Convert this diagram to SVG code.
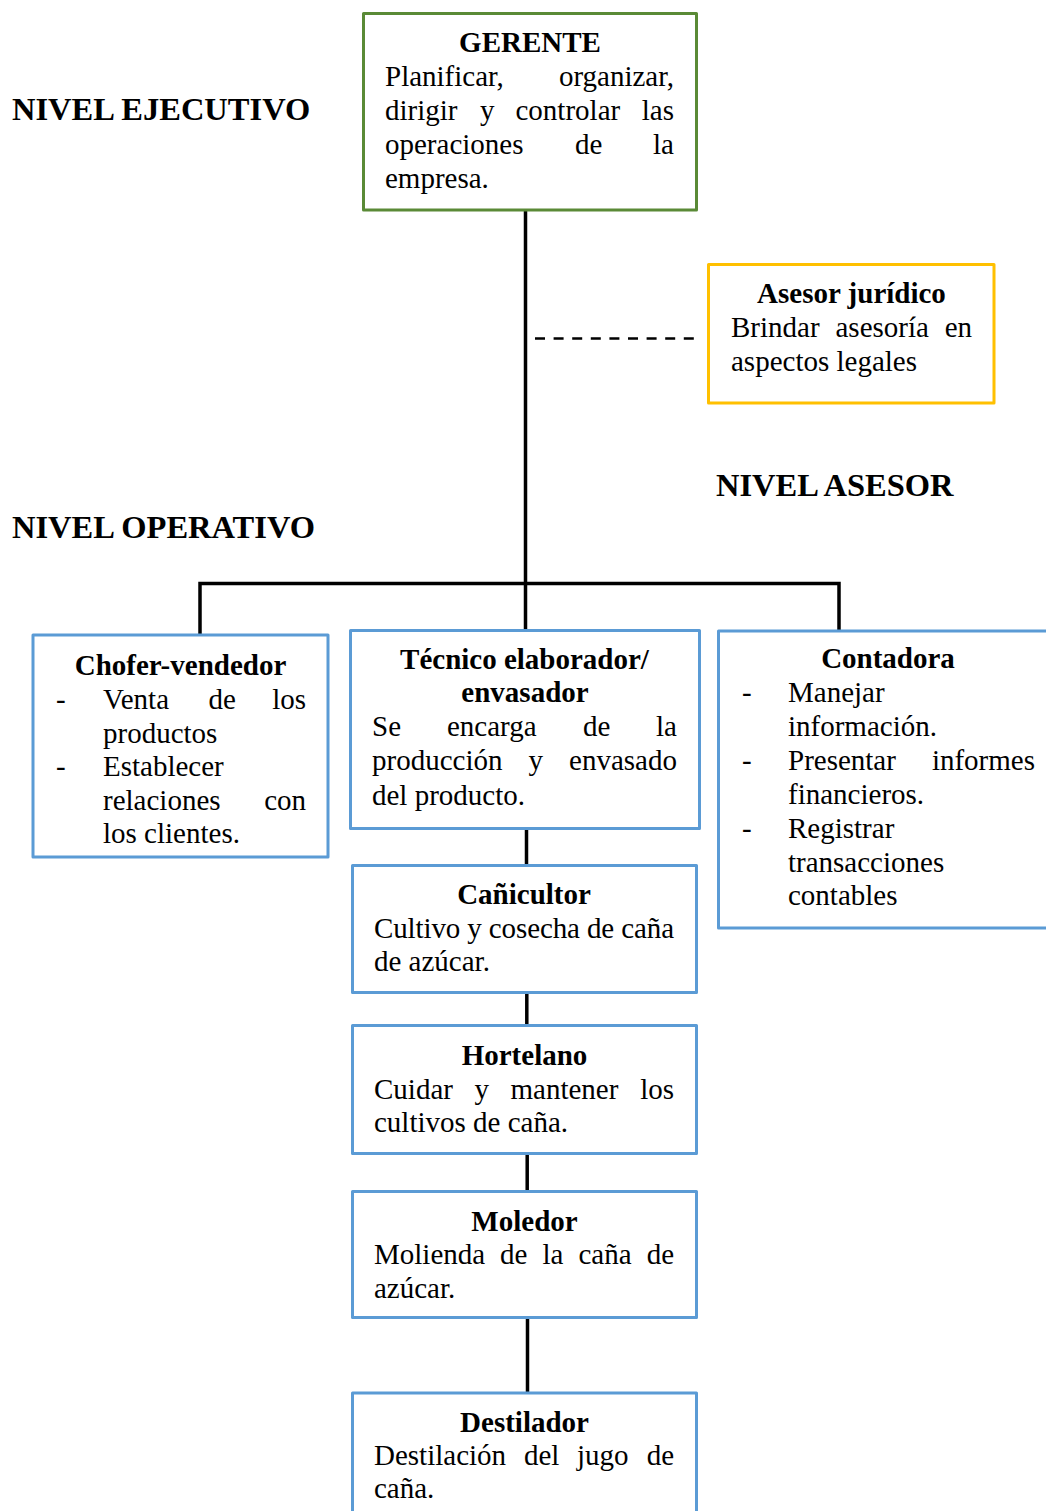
<svg xmlns="http://www.w3.org/2000/svg" width="1046" height="1511" viewBox="0 0 1046 1511">
  <style>
    text { font-family: "Liberation Serif", "Times New Roman", serif; fill: #000; }
    .t { font-size: 29px; font-weight: bold; text-anchor: middle; }
    .b { font-size: 29px; }
    .e { text-anchor: end; }
    .lvl { font-size: 32.5px; font-weight: bold; }
    .box { fill: #fff; stroke-width: 3; stroke-linejoin: round; }
    .blue { stroke: #5B9BD5; }
    .green { stroke: #5A8A36; }
    .gold { stroke: #FFC000; }
    .ln { stroke: #000; stroke-width: 3.5; fill: none; }
  </style>

  <rect width="1046" height="1511" fill="#fff"/>

  <!-- level captions -->
  <text class="lvl" x="12" y="120">NIVEL EJECUTIVO</text>
  <text class="lvl" x="716" y="496">NIVEL ASESOR</text>
  <text class="lvl" x="12" y="538">NIVEL OPERATIVO</text>

  <!-- connectors -->
  <g id="connectors">
    <line class="ln" x1="525.5" y1="211" x2="525.5" y2="631"/>
    <polyline class="ln" points="200,635 200,583.5 839,583.5 839,631"/>
    <line x1="535" y1="338.5" x2="694" y2="338.5" stroke="#000" stroke-width="2.5" stroke-dasharray="10 8.6"/>
    <line class="ln" x1="526.5" y1="829" x2="526.5" y2="866"/>
    <line class="ln" x1="526.8" y1="993" x2="526.8" y2="1026"/>
    <line class="ln" x1="527.2" y1="1153" x2="527.2" y2="1192"/>
    <line class="ln" x1="527.5" y1="1317" x2="527.5" y2="1393"/>
  </g>

  <!-- executive -->
  <g id="gerente">
    <rect class="box green" x="363.5" y="13.5" width="333" height="196.5"/>
    <text class="t" x="530" y="52">GERENTE</text>
    <text class="b" x="385" y="86">Planificar,</text>
    <text class="b e" x="674" y="86">organizar,</text>
    <text class="b" y="120"><tspan x="385">dirigir</tspan><tspan x="480">y</tspan><tspan x="515.5">controlar</tspan></text>
    <text class="b e" x="674" y="120">las</text>
    <text class="b" y="154"><tspan x="385">operaciones</tspan><tspan x="575">de</tspan></text>
    <text class="b e" x="674" y="154">la</text>
    <text class="b" x="385" y="188">empresa.</text>
  </g>

  <!-- advisory -->
  <g id="asesor">
    <rect class="box gold" x="708.5" y="264.5" width="285.5" height="138.5"/>
    <text class="t" x="851.5" y="303">Asesor jurídico</text>
    <text class="b" y="337"><tspan x="731">Brindar</tspan><tspan x="835.5">asesoría</tspan></text>
    <text class="b e" x="972" y="337">en</text>
    <text class="b" x="731" y="370.5">aspectos legales</text>
  </g>

  <!-- operational -->
  <g id="chofer">
    <rect class="box blue" x="33" y="635" width="295" height="222"/>
    <text class="t" x="180.5" y="674.5">Chofer-vendedor</text>
    <text class="b" x="56" y="708.5">-</text>
    <text class="b" y="708.5"><tspan x="103">Venta</tspan><tspan x="208.5">de</tspan></text>
    <text class="b e" x="306" y="708.5">los</text>
    <text class="b" x="103" y="742.5">productos</text>
    <text class="b" x="56" y="776">-</text>
    <text class="b" x="103" y="776">Establecer</text>
    <text class="b" x="103" y="809.5">relaciones</text>
    <text class="b e" x="306" y="809.5">con</text>
    <text class="b" x="103" y="843">los clientes.</text>
  </g>

  <g id="tecnico">
    <rect class="box blue" x="350.5" y="630.5" width="349" height="198"/>
    <text class="t" x="524.5" y="668.5">Técnico elaborador/</text>
    <text class="t" x="525" y="702">envasador</text>
    <text class="b" y="736"><tspan x="372">Se</tspan><tspan x="447">encarga</tspan><tspan x="583">de</tspan></text>
    <text class="b e" x="677" y="736">la</text>
    <text class="b" y="770"><tspan x="372">producción</tspan><tspan x="528.5">y</tspan></text>
    <text class="b e" x="677" y="770">envasado</text>
    <text class="b" x="372" y="804.5">del producto.</text>
  </g>

  <g id="contadora">
    <rect class="box blue" x="718.5" y="631" width="345" height="297"/>
    <text class="t" x="888" y="668">Contadora</text>
    <text class="b" x="742" y="702">-</text>
    <text class="b" x="788" y="702">Manejar</text>
    <text class="b" x="788" y="736">información.</text>
    <text class="b" x="742" y="770">-</text>
    <text class="b" x="788" y="770">Presentar</text>
    <text class="b e" x="1035" y="770">informes</text>
    <text class="b" x="788" y="804">financieros.</text>
    <text class="b" x="742" y="838">-</text>
    <text class="b" x="788" y="838">Registrar</text>
    <text class="b" x="788" y="871.5">transacciones</text>
    <text class="b" x="788" y="905">contables</text>
  </g>

  <g id="canicultor">
    <rect class="box blue" x="352.5" y="865.5" width="344" height="127"/>
    <text class="t" x="524" y="904">Cañicultor</text>
    <text class="b" x="374" y="937.5" textLength="300" lengthAdjust="spacing">Cultivo y cosecha de caña</text>
    <text class="b" x="374" y="971">de azúcar.</text>
  </g>

  <g id="hortelano">
    <rect class="box blue" x="352.5" y="1025.5" width="344" height="128"/>
    <text class="t" x="524.5" y="1065">Hortelano</text>
    <text class="b" y="1098.5"><tspan x="374">Cuidar</tspan><tspan x="474.5">y</tspan><tspan x="510.5">mantener</tspan></text>
    <text class="b e" x="674" y="1098.5">los</text>
    <text class="b" x="374" y="1132">cultivos de caña.</text>
  </g>

  <g id="moledor">
    <rect class="box blue" x="352.5" y="1191.5" width="344" height="126"/>
    <text class="t" x="524.5" y="1231">Moledor</text>
    <text class="b" y="1264"><tspan x="374">Molienda</tspan><tspan x="500">de</tspan><tspan x="542.5">la</tspan><tspan x="578.5">caña</tspan></text>
    <text class="b e" x="674" y="1264">de</text>
    <text class="b" x="374" y="1297.5">azúcar.</text>
  </g>

  <g id="destilador">
    <rect class="box blue" x="352.5" y="1393" width="344" height="140"/>
    <text class="t" x="524.5" y="1431.5">Destilador</text>
    <text class="b" y="1464.5"><tspan x="374">Destilación</tspan><tspan x="524">del</tspan><tspan x="577">jugo</tspan></text>
    <text class="b e" x="674" y="1464.5">de</text>
    <text class="b" x="374" y="1498">caña.</text>
  </g>
</svg>
